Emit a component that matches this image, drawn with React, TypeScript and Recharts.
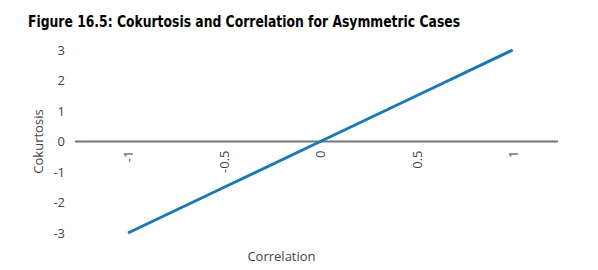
import React from "react";
import { LineChart, Line, XAxis, YAxis, ReferenceLine } from "recharts";

const correlation = [-1, -0.5, 0, 0.5, 1];
const cokurtosis = [-3, -1.5, 0, 1.5, 3];
const xTicks = [-1, -0.5, 0, 0.5, 1];
const yTicks = [3, 2, 1, 0, -1, -2, -3];
const title = "Figure 16.5: Cokurtosis and Correlation for Asymmetric Cases";

const data = correlation.map((c, i) => ({ correlation: c, cokurtosis: cokurtosis[i] }));

const W = 598;
const H = 270;
const margin = { top: 50, right: 40, bottom: 0, left: 0 };
const Y_AXIS_W = 75;
const X_AXIS_H = 37;
const Y_MIN = -3;
const Y_MAX = 3;
const plotH = H - margin.top - margin.bottom - X_AXIS_H;
const zeroY = margin.top + (plotH * (Y_MAX - 0)) / (Y_MAX - Y_MIN);

const XTick = (props: any) => {
  const { x, payload } = props;
  const ty = zeroY + 9;
  return (
    <text
      x={x}
      y={ty}
      transform={`rotate(-90, ${x}, ${ty})`}
      textAnchor="end"
      dominantBaseline="central"
      fontFamily="'Open Sans', sans-serif"
      fontSize={13}
      fill="#444"
    >
      {String(payload.value)}
    </text>
  );
};

export default function App() {
  return (
    <div style={{ position: "absolute", left: 0, top: 0, width: W, height: H, background: "#fff" }}>
      <svg width={W} height={40} style={{ position: "absolute", left: 0, top: 0 }}>
        <text
          x={28}
          y={27}
          fontFamily="'DejaVu Sans', sans-serif"
          fontWeight="bold"
          fontSize={15}
          textLength={432}
          lengthAdjust="spacingAndGlyphs"
          fill="#000"
        >
          {title}
        </text>
      </svg>
      <div style={{ position: "absolute", left: 0, top: 0 }}>
        <LineChart width={W} height={H} data={data} margin={margin}>
          <XAxis
            dataKey="correlation"
            type="number"
            domain={[-1.2755, 1.2355]}
            allowDataOverflow
            ticks={xTicks}
            axisLine={false}
            tickLine={false}
            height={X_AXIS_H}
            tick={<XTick />}
            label={{
              value: "Correlation",
              position: "insideBottom",
              offset: 9,
              dx: -35,
              fill: "#444",
              fontSize: 13,
              fontFamily: "'Open Sans', sans-serif",
            }}
          />
          <YAxis
            type="number"
            domain={[Y_MIN, Y_MAX]}
            ticks={yTicks}
            width={Y_AXIS_W}
            axisLine={false}
            tickLine={false}
            tickMargin={4}
            tick={{ fill: "#444", fontSize: 13, fontFamily: "'Open Sans', sans-serif" }}
            label={{
              value: "Cokurtosis",
              angle: -90,
              position: "center",
              dx: 1,
              fill: "#444",
              fontSize: 13,
              fontFamily: "'Open Sans', sans-serif",
            }}
          />
          <ReferenceLine y={0} stroke="#757575" strokeWidth={2} />
          <Line
            type="linear"
            dataKey="cokurtosis"
            stroke="#1a78b6"
            strokeWidth={3}
            dot={false}
            isAnimationActive={false}
          />
        </LineChart>
      </div>
    </div>
  );
}
